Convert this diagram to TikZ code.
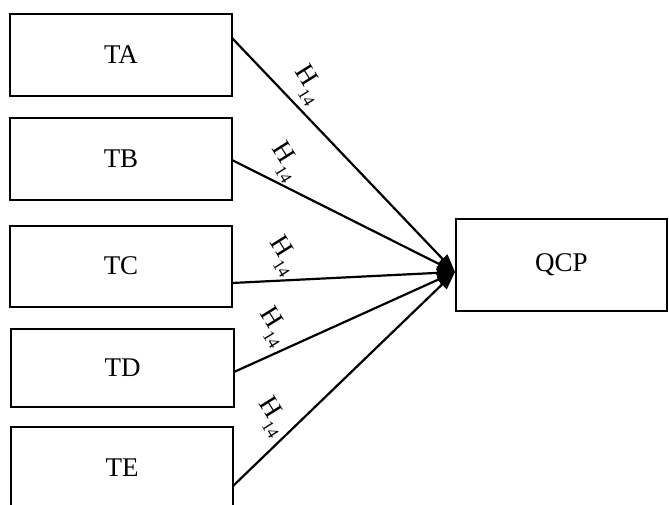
\documentclass[tikz,border=0pt]{standalone}
\usepackage{fontspec}
\setmainfont{Liberation Serif}
\usetikzlibrary{arrows.meta}
\tikzset{
  box/.style={draw=black, line width=2pt, rectangle, inner sep=0pt, font=\fontsize{27}{30}\selectfont},
  link/.style={line width=2.2pt, -{Triangle[length=18pt,width=13pt]}},
  hlab/.style={rotate=-58, inner sep=0pt, font=\fontsize{27}{30}\selectfont}
}
\newcommand{\hlabel}{H\raisebox{-0.35em}{\fontsize{17}{18}\selectfont 14}}
\begin{document}
\begin{tikzpicture}[x=1pt,y=-1pt]
\useasboundingbox (0,0) rectangle (669,505);
\clip (0,0) rectangle (669,505);
\node[box, minimum width=222pt, minimum height=82pt] (TA) at (121,55) {TA};
\node[box, minimum width=222pt, minimum height=82pt] (TB) at (121,159) {TB};
\node[box, minimum width=222pt, minimum height=81pt] (TC) at (121,266) {TC};
\node[box, minimum width=223pt, minimum height=78pt] (TD) at (122.5,368) {TD};
\node[box, minimum width=222pt, minimum height=100pt] (TE) at (122,477) {};
\node[font=\fontsize{27}{30}\selectfont] (TEt) at (122,468) {TE};
\node[box, minimum width=211pt, minimum height=92pt] (QCP) at (561.5,265) {QCP};
\coordinate (a1) at (232,38);
\coordinate (a2) at (232,160);
\coordinate (a3) at (232,283);
\coordinate (a4) at (234,372);
\coordinate (a5) at (233,486);
\coordinate (q) at (455,272);
\draw[link] (a1) -- (q);
\draw[link] (a2) -- (q);
\draw[link] (a3) -- (q);
\draw[link] (a4) -- (q);
\draw[link] (a5) -- (q);
\node[hlab] (l1) at (308,85) {\hlabel};
\node[hlab] (l2) at (285,162) {\hlabel};
\node[hlab] (l3) at (283,256) {\hlabel};
\node[hlab] (l4) at (273,327) {\hlabel};
\node[hlab] (l5) at (272,417) {\hlabel};
\end{tikzpicture}
\end{document}
